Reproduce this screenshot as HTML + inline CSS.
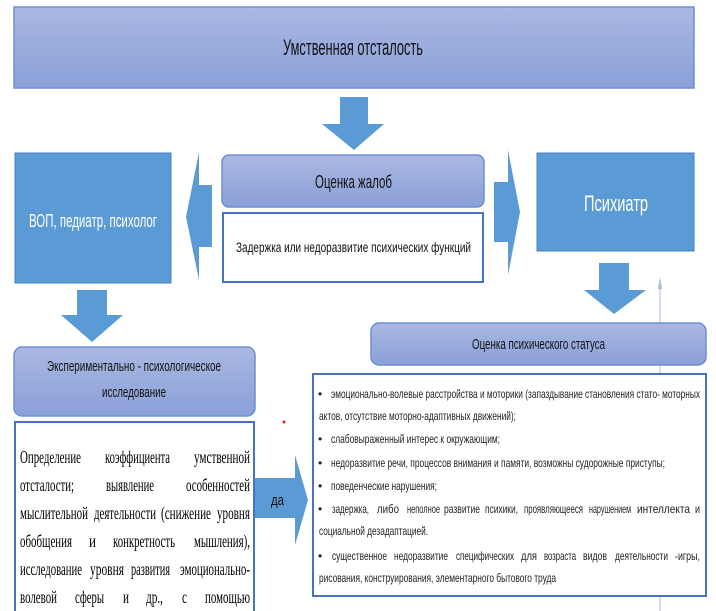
<!DOCTYPE html>
<html><head><meta charset="utf-8"><style>
body{margin:0;width:716px;height:611px;background:#fff;overflow:hidden}
svg{position:absolute;left:0;top:0}
text{font-family:"Liberation Sans",sans-serif;fill:#111}
.s{font-family:"Liberation Serif",serif;font-size:18px;fill:#000}
.l{font-size:12px;fill:#222}
</style></head><body>
<svg width="716" height="611" viewBox="0 0 716 611">
<defs>
<linearGradient id="g" x1="0" y1="0" x2="0" y2="1"><stop offset="0" stop-color="#aab8e2"/><stop offset="1" stop-color="#8aa0d8"/></linearGradient>
</defs>
<rect x="14" y="7" width="680" height="81" fill="url(#g)" stroke="#6d8fd0" stroke-width="1.5"/>
<text x="283" y="55" font-size="22" textLength="140" lengthAdjust="spacingAndGlyphs">Умственная отсталость</text>

<polygon points="340,97 368,97 368,124 384,124 354,150 322,124 340,124" fill="#5b9bd5"/>
<polygon points="212,185 212,247 199,247 199,280 186,217 199,152 199,185" fill="#5b9bd5"/>
<polygon points="494,182 508,182 508,150 520,212 508,275 508,242 494,242" fill="#5b9bd5"/>
<polygon points="599,263 629,263 629,290 646,290 614,314 584,290 599,290" fill="#5b9bd5"/>
<polygon points="77,290 107,290 107,315 123,315 92,342 61,315 77,315" fill="#5b9bd5"/>
<polygon points="255,478 295,478 295,455 308,500 295,545 295,518 255,518" fill="#5b9bd5"/>
<line x1="660" y1="284" x2="660" y2="611" stroke="#a8bcdc" stroke-width="1"/>
<polygon points="658,289 660,277 662,289" fill="#a8bcdc"/>
<circle cx="284" cy="422" r="1.5" fill="#e02020"/>

<rect x="15" y="153" width="156" height="130" fill="#5b9bd5" stroke="#4a7fbf"/>
<text x="29" y="227" font-size="18" style="fill:#fff" textLength="128" lengthAdjust="spacingAndGlyphs">ВОП, педиатр, психолог</text>

<rect x="222" y="155" width="262" height="52" rx="7" fill="url(#g)" stroke="#6d8fd0" stroke-width="1.5"/>
<text x="315" y="188" font-size="18" textLength="77" lengthAdjust="spacingAndGlyphs">Оценка жалоб</text>
<rect x="223" y="213" width="260" height="69" fill="#fff" stroke="#4a72c4" stroke-width="2"/>
<text x="236" y="252" font-size="14" textLength="235" lengthAdjust="spacingAndGlyphs">Задержка или недоразвитие психических функций</text>

<rect x="537" y="153" width="157" height="98" fill="#5b9bd5" stroke="#4a7fbf"/>
<text x="584" y="211" font-size="22" style="fill:#fff" textLength="64" lengthAdjust="spacingAndGlyphs">Психиатр</text>

<rect x="14" y="347" width="241" height="69" rx="8" fill="url(#g)" stroke="#6d8fd0" stroke-width="1.5"/>
<text x="47" y="371" font-size="15" textLength="174" lengthAdjust="spacingAndGlyphs">Экспериментально - психологическое</text>
<text x="102" y="397" font-size="15" textLength="64" lengthAdjust="spacingAndGlyphs">исследование</text>
<rect x="15" y="422" width="239" height="200" fill="#fff" stroke="#4a72c4" stroke-width="2"/>

<g>
<text class="s" x="20" y="463" textLength="61" lengthAdjust="spacingAndGlyphs">Определение</text>
<text class="s" x="105" y="463" textLength="65" lengthAdjust="spacingAndGlyphs">коэффициента</text>
<text class="s" x="194" y="463" textLength="56" lengthAdjust="spacingAndGlyphs">умственной</text>
<text class="s" x="20" y="491" textLength="54" lengthAdjust="spacingAndGlyphs">отсталости;</text>
<text class="s" x="106" y="491" textLength="48" lengthAdjust="spacingAndGlyphs">выявление</text>
<text class="s" x="186" y="491" textLength="64" lengthAdjust="spacingAndGlyphs">особенностей</text>
<text class="s" x="20" y="519" textLength="68" lengthAdjust="spacingAndGlyphs">мыслительной</text>
<text class="s" x="94" y="519" textLength="62" lengthAdjust="spacingAndGlyphs">деятельности</text>
<text class="s" x="161" y="519" textLength="50" lengthAdjust="spacingAndGlyphs">(снижение</text>
<text class="s" x="217" y="519" textLength="33" lengthAdjust="spacingAndGlyphs">уровня</text>
<text class="s" x="20" y="547" textLength="52" lengthAdjust="spacingAndGlyphs">обобщения</text>
<text class="s" x="89" y="547" textLength="7" lengthAdjust="spacingAndGlyphs">и</text>
<text class="s" x="113" y="547" textLength="62" lengthAdjust="spacingAndGlyphs">конкретность</text>
<text class="s" x="194" y="547" textLength="56" lengthAdjust="spacingAndGlyphs">мышления),</text>
<text class="s" x="20" y="575" textLength="62" lengthAdjust="spacingAndGlyphs">исследование</text>
<text class="s" x="90" y="575" textLength="34" lengthAdjust="spacingAndGlyphs">уровня</text>
<text class="s" x="131" y="575" textLength="39" lengthAdjust="spacingAndGlyphs">развития</text>
<text class="s" x="180" y="575" textLength="70" lengthAdjust="spacingAndGlyphs">эмоционально-</text>
<text class="s" x="20" y="603" textLength="37" lengthAdjust="spacingAndGlyphs">волевой</text>
<text class="s" x="75" y="603" textLength="29" lengthAdjust="spacingAndGlyphs">сферы</text>
<text class="s" x="123" y="603" textLength="6" lengthAdjust="spacingAndGlyphs">и</text>
<text class="s" x="146" y="603" textLength="17" lengthAdjust="spacingAndGlyphs">др.,</text>
<text class="s" x="182" y="603" textLength="5" lengthAdjust="spacingAndGlyphs">с</text>
<text class="s" x="205" y="603" textLength="45" lengthAdjust="spacingAndGlyphs">помощью</text>
</g>

<text x="271" y="505" font-size="15" textLength="13" lengthAdjust="spacingAndGlyphs">да</text>

<rect x="371" y="323" width="335" height="42" rx="8" fill="url(#g)" stroke="#6d8fd0" stroke-width="1.5"/>
<text x="472" y="349" font-size="15" textLength="133" lengthAdjust="spacingAndGlyphs">Оценка психического статуса</text>
<rect x="313" y="374" width="393" height="222" fill="#fff" stroke="#4a72c4" stroke-width="2"/>

<g>
<text class="l" x="318" y="398">•</text><text class="l" x="331" y="398" textLength="369" lengthAdjust="spacingAndGlyphs">эмоционально-волевые расстройства и моторики (запаздывание становления стато- моторных</text>
<text class="l" x="319" y="420" textLength="197" lengthAdjust="spacingAndGlyphs">актов, отсутствие моторно-адаптивных движений);</text>
<text class="l" x="318" y="443">•</text><text class="l" x="331" y="443" textLength="169" lengthAdjust="spacingAndGlyphs">слабовыраженный интерес к окружающим;</text>
<text class="l" x="318" y="467">•</text><text class="l" x="331" y="467" textLength="334" lengthAdjust="spacingAndGlyphs">недоразвитие речи, процессов внимания и памяти, возможны судорожные приступы;</text>
<text class="l" x="318" y="490">•</text><text class="l" x="331" y="490" textLength="106" lengthAdjust="spacingAndGlyphs">поведенческие нарушения;</text>
<text class="l" x="318" y="513">•</text>
<text class="l" x="332" y="513" textLength="37" lengthAdjust="spacingAndGlyphs">задержка,</text>
<text class="l" x="377" y="513" textLength="22" lengthAdjust="spacingAndGlyphs">либо</text>
<text class="l" x="407" y="513" textLength="33" lengthAdjust="spacingAndGlyphs">неполное</text>
<text class="l" x="444" y="513" textLength="36" lengthAdjust="spacingAndGlyphs">развитие</text>
<text class="l" x="485" y="513" textLength="33" lengthAdjust="spacingAndGlyphs">психики,</text>
<text class="l" x="524" y="513" textLength="59" lengthAdjust="spacingAndGlyphs">проявляющееся</text>
<text class="l" x="589" y="513" textLength="42" lengthAdjust="spacingAndGlyphs">нарушением</text>
<text class="l" x="637" y="513" textLength="53" lengthAdjust="spacingAndGlyphs">интеллекта</text>
<text class="l" x="695" y="513" textLength="5" lengthAdjust="spacingAndGlyphs">и</text>
<text class="l" x="319" y="535" textLength="109" lengthAdjust="spacingAndGlyphs">социальной дезадаптацией.</text>
<text class="l" x="318" y="560">•</text>
<text class="l" x="332" y="560" textLength="55" lengthAdjust="spacingAndGlyphs">существенное</text>
<text class="l" x="394" y="560" textLength="54" lengthAdjust="spacingAndGlyphs">недоразвитие</text>
<text class="l" x="456" y="560" textLength="58" lengthAdjust="spacingAndGlyphs">специфических</text>
<text class="l" x="521" y="560" textLength="16" lengthAdjust="spacingAndGlyphs">для</text>
<text class="l" x="544" y="560" textLength="32" lengthAdjust="spacingAndGlyphs">возраста</text>
<text class="l" x="583" y="560" textLength="24" lengthAdjust="spacingAndGlyphs">видов</text>
<text class="l" x="615" y="560" textLength="53" lengthAdjust="spacingAndGlyphs">деятельности</text>
<text class="l" x="675" y="560" textLength="25" lengthAdjust="spacingAndGlyphs">-игры,</text>
<text class="l" x="319" y="582" textLength="237" lengthAdjust="spacingAndGlyphs">рисования, конструирования, элементарного бытового труда</text>
</g>
</svg>
</body></html>
